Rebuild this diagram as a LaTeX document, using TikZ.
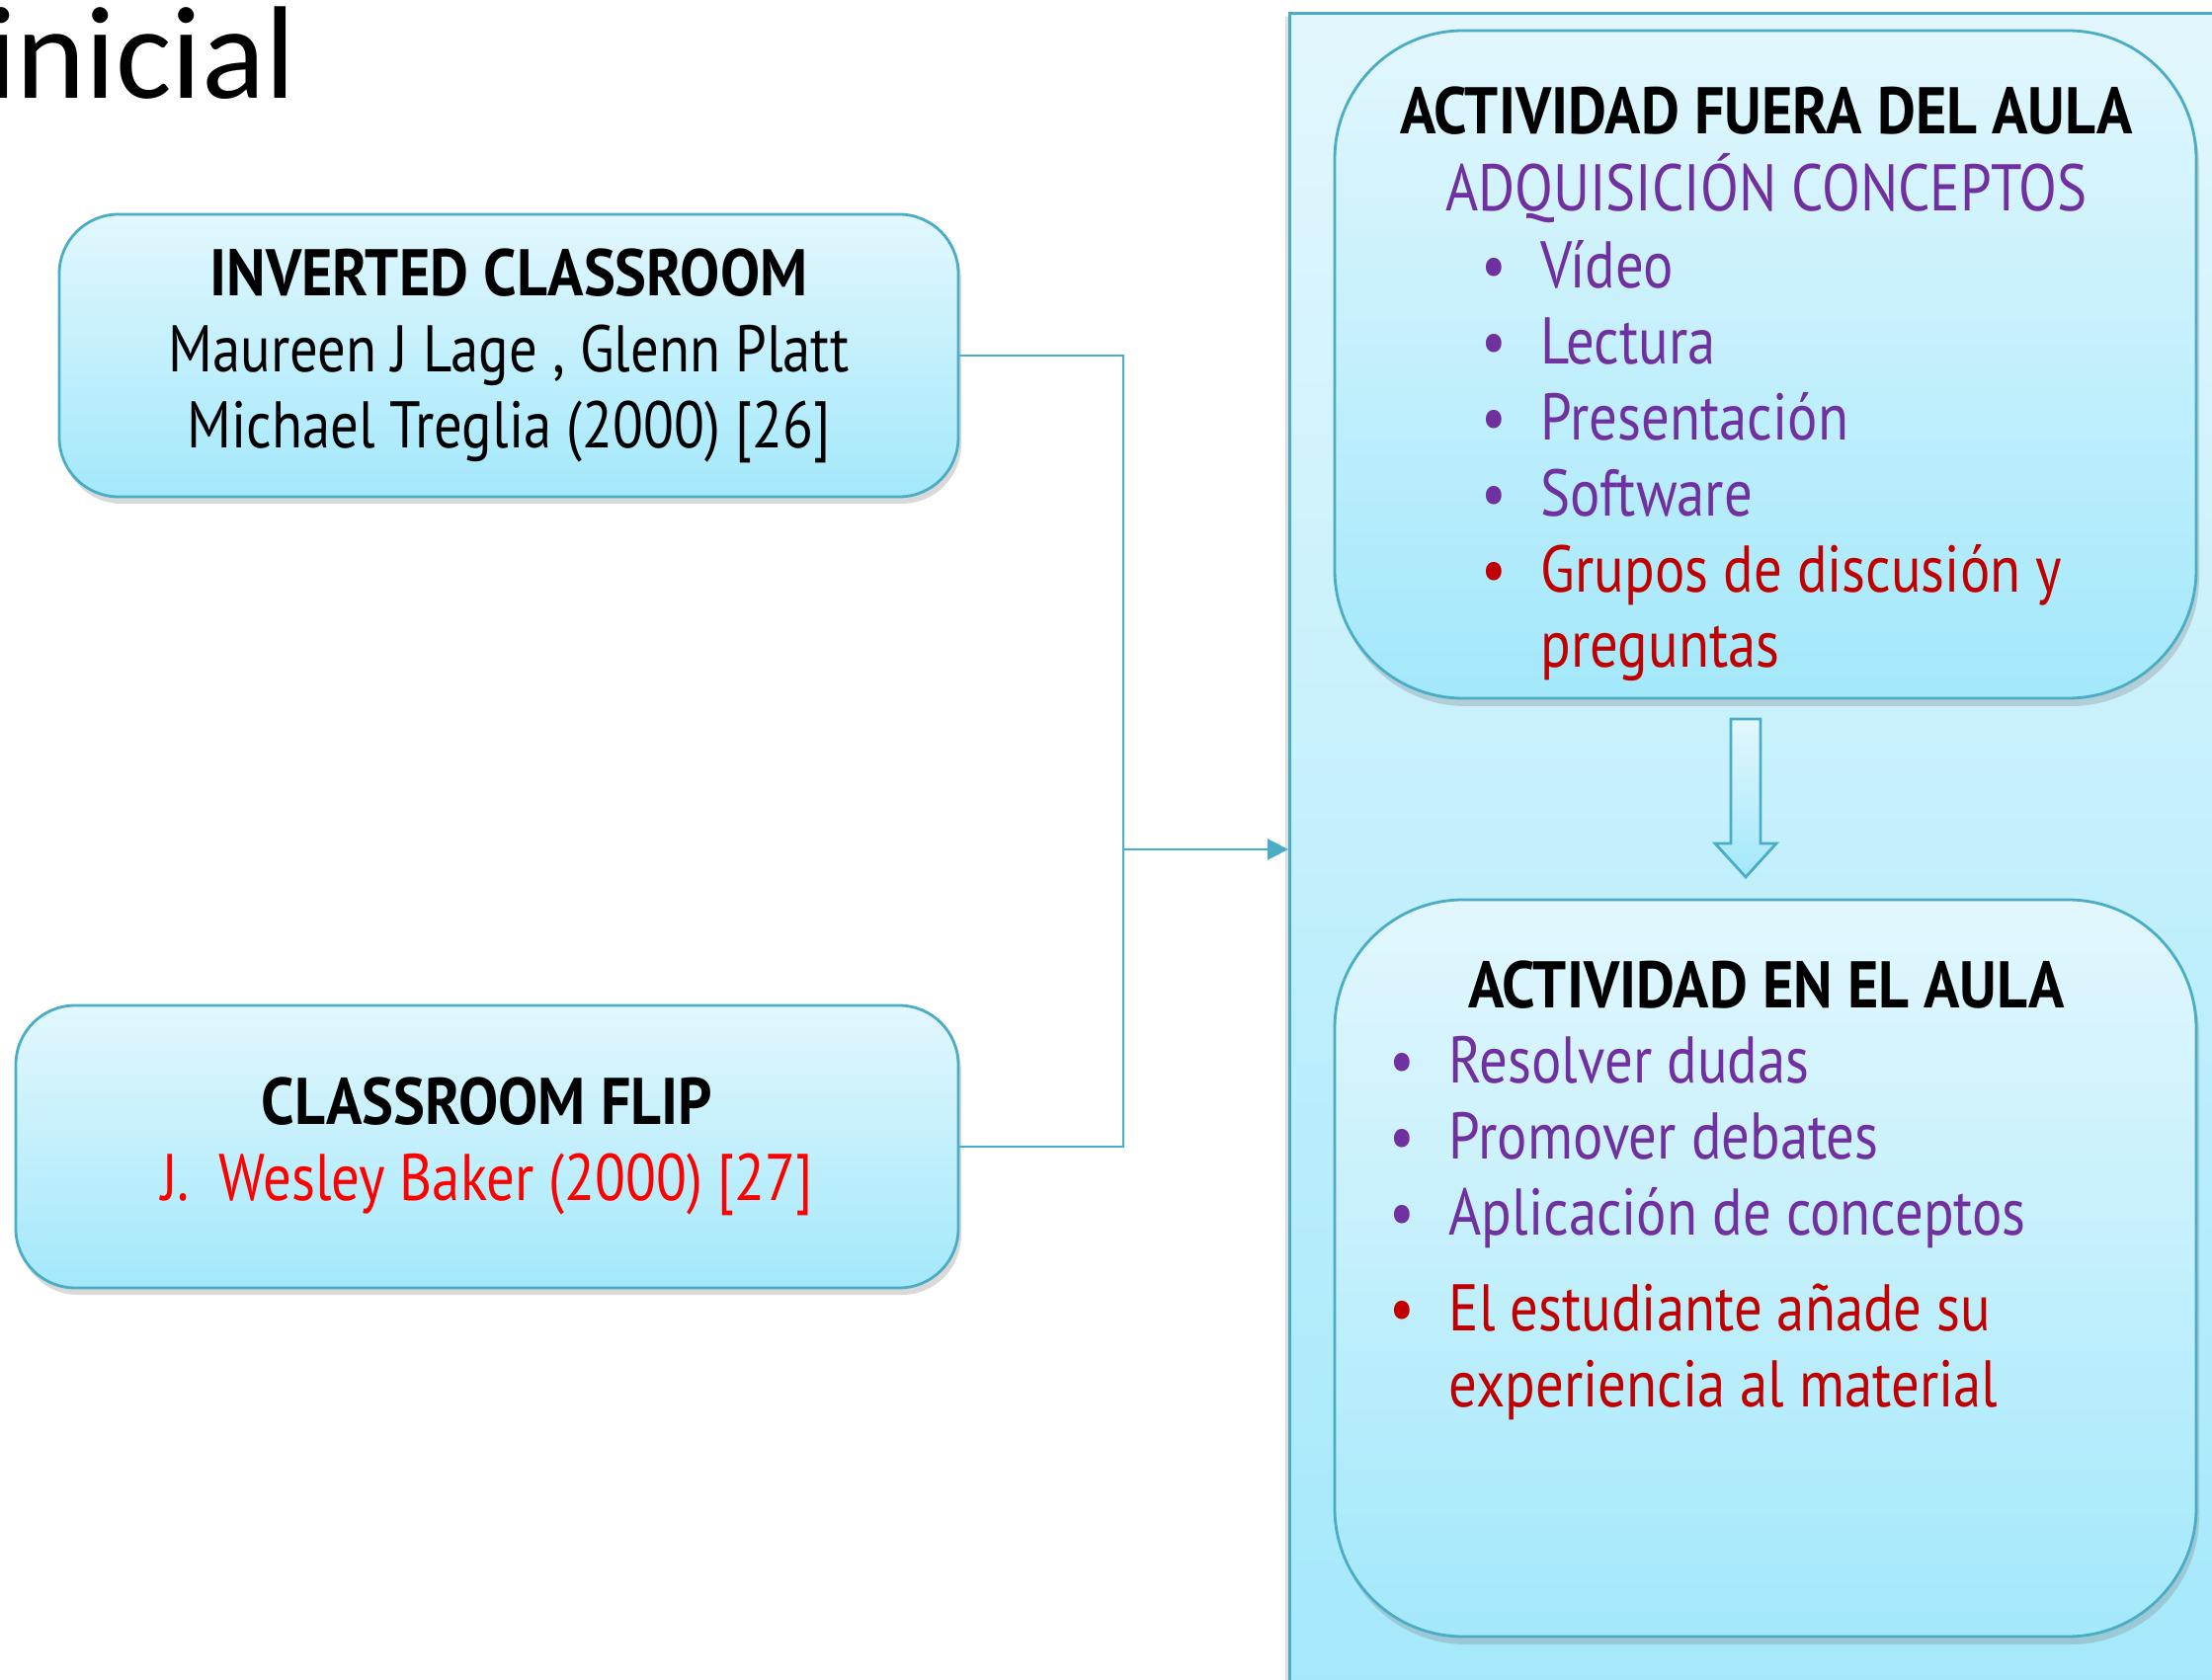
\documentclass[tikz,border=0pt]{standalone}
\usepackage{fontspec}
\setmainfont{PT Sans}[FakeStretch=0.85, BoldFeatures={FakeStretch=0.90}]
\newfontfamily\titlefont{Carlito}
\usetikzlibrary{arrows.meta, calc, positioning, shadows}

\definecolor{aqualine}{RGB}{75,172,198}
\definecolor{aquatop}{RGB}{226,247,253}
\definecolor{aquabot}{RGB}{163,232,251}
\definecolor{conceptpurple}{RGB}{112,48,160}
\definecolor{notered}{RGB}{192,0,0}
\newcommand{\boxfont}{\fontsize{19}{21.9}\selectfont}
\newcommand{\bul}[2]{\textcolor{#1}{\makebox[0.6cm][l]{•}#2}}

\begin{document}
\begin{tikzpicture}[
    box/.style={rectangle, draw=aqualine, line width=0.8pt, top color=aquatop, bottom color=aquabot, rounded corners=0.6cm, minimum height=2.86cm, align=center, font=\boxfont, drop shadow={shadow xshift=0.03cm, shadow yshift=-0.07cm, opacity=0.3}},
    panel/.style={rectangle, draw=aqualine, line width=0.8pt, top color=aquatop, bottom color=aquabot, rounded corners=1.3cm, minimum width=8.72cm, drop shadow={shadow xshift=0.03cm, shadow yshift=-0.08cm, opacity=0.3}},
    frame/.style={rectangle, draw=aqualine, line width=0.8pt, top color=aquatop, bottom color=aquabot, minimum width=9.6cm, minimum height=17.4cm, anchor=north west, drop shadow={shadow xshift=-0.04cm, shadow yshift=-0.04cm, opacity=0.25}},
    head/.style={font=\boxfont\bfseries, anchor=base, inner sep=0pt},
    list/.style={font=\boxfont, align=left, anchor=base west, inner sep=0pt},
    conn/.style={draw=aqualine, line width=0.8pt},
    arrow/.style={conn, -{Triangle[length=6pt, width=6pt]}}
]
\useasboundingbox (0,0) rectangle (22.39,-17.01);

\node[anchor=base east, inner sep=0pt, font=\titlefont\fontsize{38}{42}\selectfont] (title) at (3.00,-1.00) {inicial};

% left side
\node[box, minimum width=9.10cm] (inv) at (5.15,-3.60) {\textbf{INVERTED CLASSROOM}\\Maureen J Lage , Glenn Platt\\Michael Treglia (2000) [26]};
\node[box, minimum width=9.54cm] (flip) at (4.93,-11.61) {\textbf{CLASSROOM FLIP}\\\textcolor{red}{J.\hspace{0.45em}Wesley Baker (2000) [27]}};

% right side
\node[frame] (cont) at (13.04,-0.12) {};
\node[panel, minimum height=6.76cm] (fuera) at (17.87,-3.69) {};
\node[panel, minimum height=7.46cm] (aula) at (17.87,-12.84) {};

\node[head] (fuerahead) at (17.88,-1.36) {ACTIVIDAD FUERA DEL AULA};
\node[head, font=\boxfont, text=conceptpurple] (adq) at (17.88,-2.14) {ADQUISICIÓN CONCEPTOS};
% base of a multi-line node is its last line
\node[list] (fueralist) at (14.99,-6.76) {\bul{conceptpurple}{Vídeo}\\
  \bul{conceptpurple}{Lectura}\\
  \bul{conceptpurple}{Presentación}\\
  \bul{conceptpurple}{Software}\\
  \bul{notered}{Grupos de discusión y}\\
  \hspace*{0.6cm}\textcolor{notered}{preguntas}};

\node[head] (aulahead) at (17.88,-10.21) {ACTIVIDAD EN EL AULA};
\node[list] (aulalist) at (14.06,-14.24) {\bul{conceptpurple}{Resolver dudas}\\
  \bul{conceptpurple}{Promover debates}\\
  \bul{conceptpurple}{Aplicación de conceptos}\\[0.2cm]
  \bul{notered}{El estudiante añade su}\\
  \hspace*{0.6cm}\textcolor{notered}{experiencia al material}};

% block arrow between panels
\draw[conn, top color=aquatop, bottom color=aquabot] (17.52,-7.28) -- (17.82,-7.28) -- (17.82,-8.54) -- (17.98,-8.54)
  -- (17.67,-8.88) -- (17.36,-8.54) -- (17.52,-8.54) -- cycle;

% connectors
\coordinate (join) at (11.37,-8.60);
\draw[conn] (inv.east) -| (join) |- (flip.east);
\draw[arrow] (join) -- (join -| cont.west);
\end{tikzpicture}
\end{document}
